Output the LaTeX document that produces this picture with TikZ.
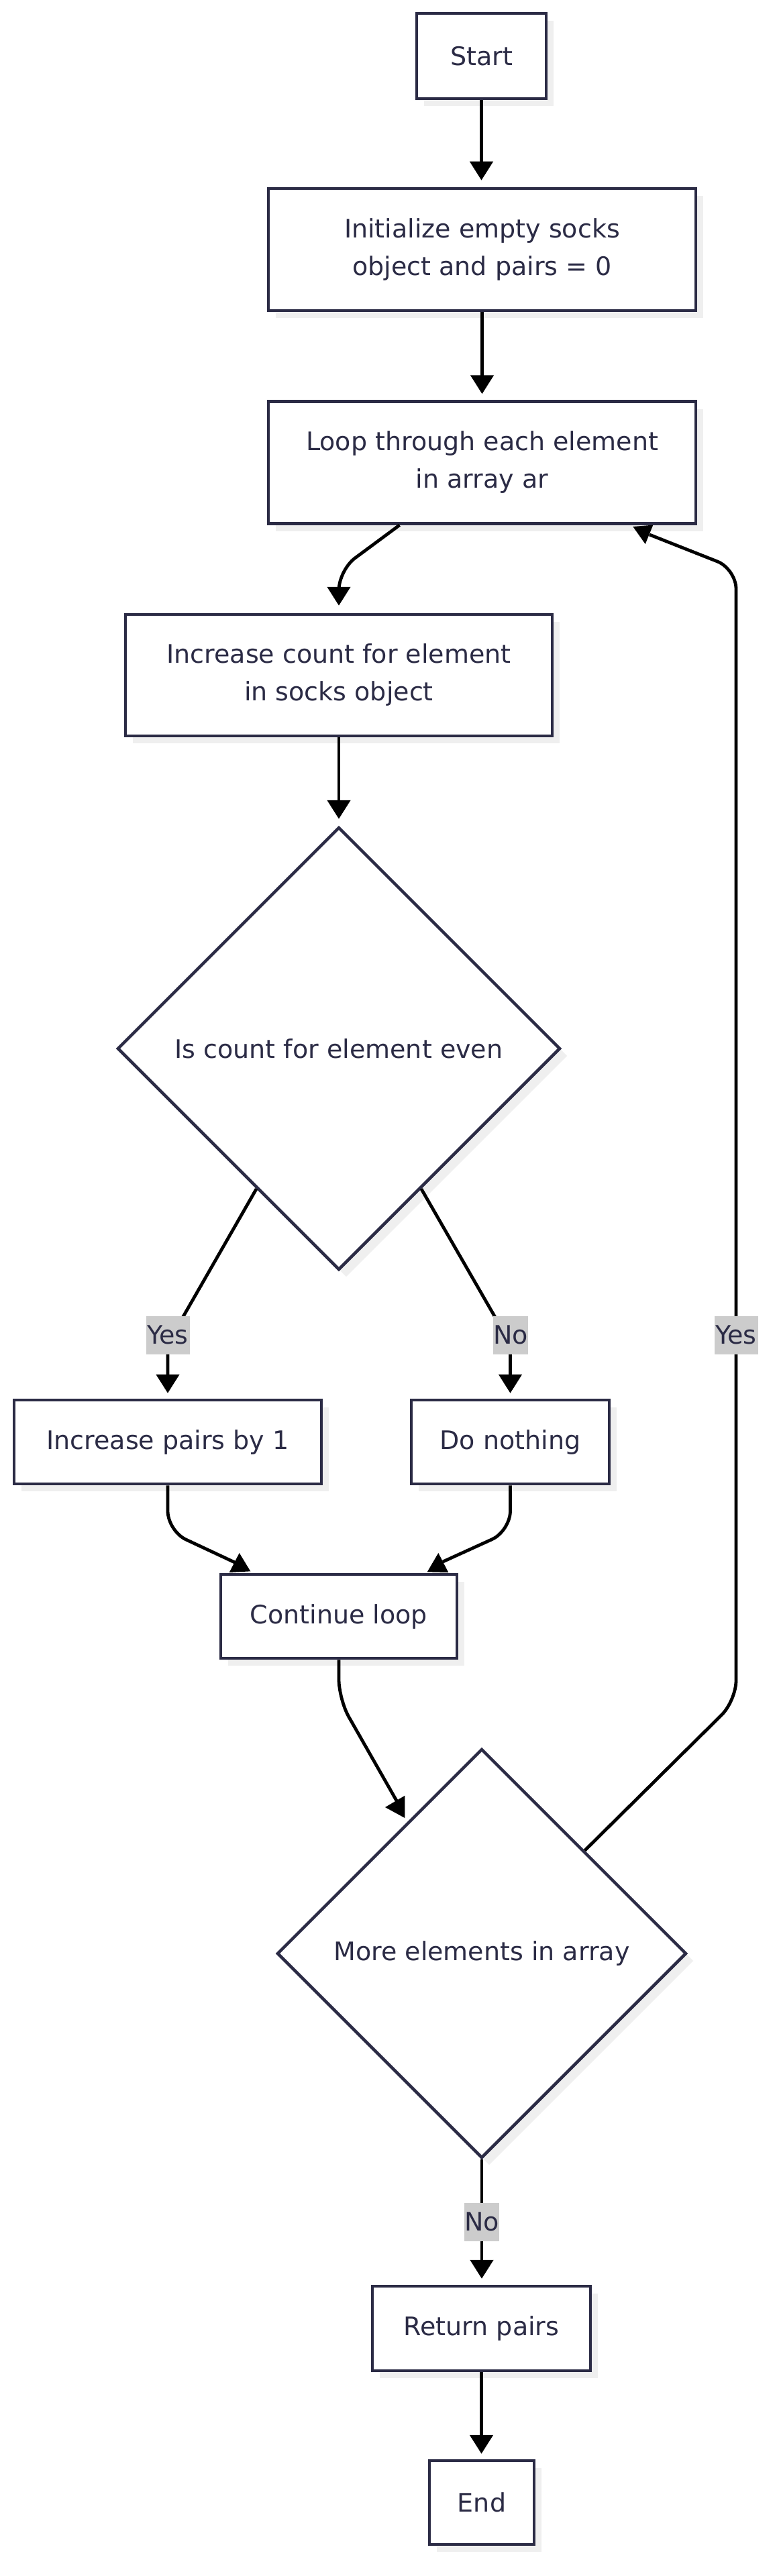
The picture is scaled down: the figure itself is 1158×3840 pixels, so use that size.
\documentclass[tikz,border=0pt]{standalone}
\usepackage{fontspec}
\setmainfont{DejaVu Sans}
\usetikzlibrary{arrows.meta,shapes.geometric,shadows,calc}
\definecolor{navy}{HTML}{2B2B45}
\definecolor{shadowgray}{HTML}{EFEFEF}
\definecolor{labelgray}{HTML}{CCCCCC}
\begin{document}
\begin{tikzpicture}[x=1pt,y=-1pt,
  every node/.style={font=\fontsize{38}{56}\selectfont, text=navy},
  procbox/.style={draw=navy, line width=4.5pt, fill=white, rectangle, inner sep=0pt, align=center,
    general shadow={fill=shadowgray, shadow xshift=11pt, shadow yshift=-11pt}},
  decbox/.style={draw=navy, line width=4.5pt, fill=white, diamond, aspect=1, inner sep=0pt, align=center,
    general shadow={fill=shadowgray, shadow xshift=11pt, shadow yshift=-11pt}},
  lbl/.style={fill=labelgray, inner sep=0pt, minimum height=57pt},
  conn/.style={draw=black, line width=4.8pt, rounded corners=30pt},
  arr/.style={-{Triangle[length=28pt,width=34pt]}},
  tipfill/.style={fill=black}
]
\useasboundingbox (0,0) rectangle (1158,3840);
\fill[white] (0,0) rectangle (1158,3840);

% nodes
\node[procbox, minimum width=193pt, minimum height=127pt] (start) at (717.5,83.5) {Start};
\node[procbox, minimum width=637pt, minimum height=182pt] (init) at (718.5,372) {Initialize empty socks\\object and pairs = 0};
\node[procbox, minimum width=637pt, minimum height=182pt] (loop) at (718.5,689.5) {Loop through each element\\in array ar};
\node[procbox, minimum width=636pt, minimum height=181pt] (inc) at (505,1006.5) {Increase count for element\\in socks object};
\node[decbox, minimum width=660pt, minimum height=660pt] (even) at (505,1563) {Is count for element even};
\node[procbox, minimum width=458pt, minimum height=125pt] (pairs) at (250,2149.5) {Increase pairs by 1};
\node[procbox, minimum width=295pt, minimum height=125pt] (nothing) at (760.5,2149.5) {Do nothing};
\node[procbox, minimum width=352pt, minimum height=125pt] (cont) at (505,2409.5) {Continue loop};
\node[decbox, minimum width=610pt, minimum height=610pt] (more) at (718,2912) {More elements in array};
\node[procbox, minimum width=325pt, minimum height=126pt] (ret) at (717.5,3471) {Return pairs};
\node[procbox, minimum width=156pt, minimum height=125pt] (end) at (718,3730.5) {End};

% free ends and bends
\coordinate (c1end) at (352,2330);
\coordinate (c2end) at (660,2328);
\coordinate (c3end) at (592,2686);
\coordinate (yesA) at (1097,2535);
\coordinate (yesB) at (1097,848);
\coordinate (c4end) at (968,797);

% connectors
\draw[conn,arr,shorten >=10pt] (start.south) -- (start.south |- init.north);
\draw[conn,arr,shorten >=9pt] (init.south) -- (init.south |- loop.north);
\draw[conn,arr] ($(loop.south)+(-123,0)$) -- ($(inc.north)+(0,-64)$) -- ($(inc.north)+(0,-11)$);
\draw[conn,arr,shorten >=10pt] (inc.south) -- (inc.south |- even.north);
\draw[conn,arr,shorten >=8pt,rounded corners=12pt] ($(even.south)!0.37!(even.west)$) -- ($(pairs.north)+(0,-82)$) -- (pairs.north);
\draw[conn,arr,shorten >=8pt,rounded corners=12pt] ($(even.south)!0.37!(even.east)$) -- ($(nothing.north)+(0,-82)$) -- (nothing.north);
\draw[conn] (pairs.south) -- ($(pairs.south)+(0,68)$) -- (c1end);
\fill[tipfill] (341.7,2344) -- (373.3,2342.3) -- (356.7,2315) -- cycle;
\draw[conn] (nothing.south) -- ($(nothing.south)+(0,68)$) -- (c2end);
\fill[tipfill] (636.7,2343.3) -- (668.3,2344) -- (653.3,2315) -- cycle;
\draw[conn] (cont.south) -- ($(cont.south)+(0,59)$) -- (c3end);
\fill[tipfill] (574,2694) -- (603.3,2676.7) -- (603.3,2710) -- cycle;
\draw[conn] ($(more.north)!0.5!(more.east)$) -- (yesA) -- (yesB) -- (c4end);
\fill[tipfill] (943.3,785) -- (973.3,782.7) -- (961.7,811) -- cycle;
\draw[conn,arr,shorten >=9pt] (more.south) -- (more.south |- ret.north);
\draw[conn,arr,shorten >=8pt] (ret.south) -- (ret.south |- end.north);

% edge labels
\node[lbl, minimum width=65pt] (yes1) at (250,1990) {Yes};
\node[lbl, minimum width=48pt] (no1) at (761,1990) {No};
\node[lbl, minimum width=65pt] (yes2) at (1097,1990) {Yes};
\node[lbl, minimum width=48pt] (no2) at (718,3312) {No};
\end{tikzpicture}
\end{document}
